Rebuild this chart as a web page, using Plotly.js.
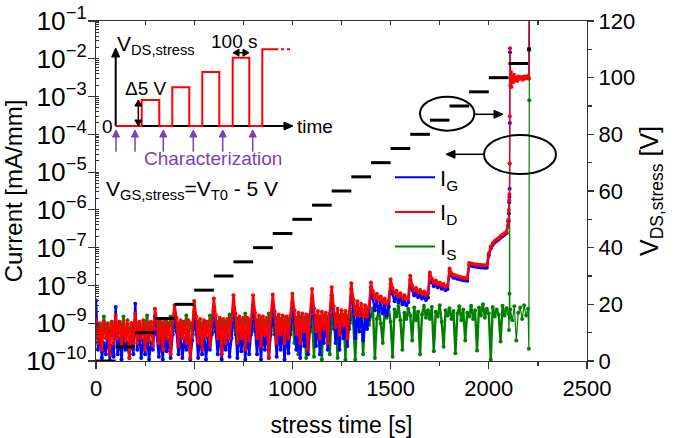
<!DOCTYPE html>
<html>
<head>
<meta charset="utf-8">
<script src="https://cdn.plot.ly/plotly-3.0.1.min.js"></script>
<style>
  html, body { margin: 0; padding: 0; background: #fff; }
  #chart { width: 678px; height: 438px; }
</style>
</head>
<body>
<div id="chart"></div>
<script>
// Stress sequence: currents logged every 10 s, V_DS,stress stepped by 5 V every 100 s.
const SAMPLE_INTERVAL_S = 10;

// Gate current I_G [mA/mm], one row per 100 s step (t = 0 ... 2090 s), last value at t = 2100 s
const gateCurrent = [
  4.0e-9, 2e-10, 5e-10, 1.2e-10, 3e-10, 1.5e-10, 6e-10, 1.0e-10, 2.5e-10, 1.3e-10,
  2.7e-9, 1.5e-10, 4e-10, 1.1e-10, 5e-10, 2e-10, 3e-10, 1.2e-10, 4.5e-10, 1.5e-10,
  3.3e-9, 2e-10, 6e-10, 1.2e-10, 3.5e-10, 1.5e-10, 5e-10, 1.1e-10, 3e-10, 2e-10,
  1.5e-9, 5e-10, 1.3e-10, 4e-10, 1.1e-10, 6e-10, 1.8e-10, 3.5e-10, 1.2e-10, 5e-10,
  1.8e-9, 6e-10, 1.5e-10, 5e-10, 1.2e-10, 4e-10, 2e-10, 6e-10, 1.1e-10, 3.5e-10,
  2.0e-9, 7e-10, 1.2e-10, 5e-10, 1.5e-10, 6e-10, 1.1e-10, 4e-10, 2e-10, 5.5e-10,
  2.2e-9, 6e-10, 1.5e-10, 7e-10, 1.1e-10, 5e-10, 2e-10, 6e-10, 1.3e-10, 4e-10,
  2.5e-9, 8e-10, 1.2e-10, 6e-10, 1.8e-10, 7e-10, 1.1e-10, 5e-10, 1.5e-10, 6e-10,
  2.8e-9, 7e-10, 1.5e-10, 8e-10, 1.1e-10, 6e-10, 2e-10, 7e-10, 1.2e-10, 5e-10,
  3.0e-9, 9e-10, 1.3e-10, 7e-10, 2e-10, 8e-10, 1.1e-10, 6e-10, 1.6e-10, 7e-10,
  3.5e-9, 1.2e-9, 2e-10, 1.0e-9, 1.2e-10, 9e-10, 2.5e-10, 1.1e-9, 1.5e-10, 8e-10,
  4.5e-9, 1.5e-9, 2.5e-10, 1.2e-9, 1.5e-10, 1.1e-9, 3e-10, 1.3e-9, 2e-10, 1.0e-9,
  5.5e-9, 1.8e-9, 3e-10, 1.5e-9, 2e-10, 1.4e-9, 4e-10, 1.3e-9, 2.5e-10, 1.2e-9,
  8.0e-9, 2.5e-9, 4e-10, 2.0e-9, 6e-10, 1.8e-9, 3.5e-10, 1.6e-9, 7e-10, 1.5e-9,
  9.0e-9, 4.5e-9, 2.2e-9, 4.0e-9, 2.0e-9, 3.5e-9, 1.8e-9, 3.0e-9, 1.6e-9, 2.8e-9,
  1.1e-8, 6.0e-9, 3.8e-9, 5.2e-9, 3.5e-9, 4.6e-9, 3.2e-9, 4.0e-9, 3.0e-9, 3.6e-9,
  1.4e-8, 7.6e-9, 5.4e-9, 6.6e-9, 4.9e-9, 5.8e-9, 4.5e-9, 5.2e-9, 4.1e-9, 4.7e-9,
  1.8e-8, 1.2e-8, 9.5e-9, 1.08e-8, 8.8e-9, 9.6e-9, 8.2e-9, 8.8e-9, 7.5e-9, 8.0e-9,
  2.4e-8, 1.8e-8, 1.6e-8, 1.6e-8, 1.5e-8, 1.45e-8, 1.42e-8, 1.38e-8, 1.35e-8, 1.33e-8,
  3.5e-8, 3.3e-8, 3.2e-8, 3.15e-8, 3.1e-8, 3.05e-8, 3.0e-8, 3.0e-8, 2.95e-8, 2.95e-8,
  6.2e-8, 9.5e-8, 1.18e-7, 1.36e-7, 1.5e-7, 1.65e-7, 1.82e-7, 2.0e-7, 2.2e-7, 2.4e-7,
  5.0e-7
];

// Drain current I_D [mA/mm]
const drainCurrent = [
  1.2e-9, 3e-10, 1.0e-9, 2e-10, 1.1e-9, 4e-10, 9e-10, 1.5e-10, 1.1e-9, 3e-10,
  1.6e-9, 4e-10, 1.1e-9, 2.5e-10, 1.0e-9, 3.5e-10, 1.2e-9, 1.2e-10, 1.0e-9, 3e-10,
  1.8e-9, 3e-10, 1.1e-9, 4e-10, 1.2e-9, 2e-10, 1.0e-9, 3.5e-10, 1.1e-9, 2.5e-10,
  2.4e-9, 1.3e-9, 3e-10, 1.1e-9, 2e-10, 1.2e-9, 4e-10, 1.0e-9, 1.5e-10, 1.1e-9,
  3.0e-9, 1.4e-9, 2.5e-10, 1.2e-9, 4e-10, 1.1e-9, 3e-10, 1.2e-9, 1.2e-10, 1.0e-9,
  3.9e-9, 1.5e-9, 3e-10, 1.3e-9, 2e-10, 1.2e-9, 4.5e-10, 1.1e-9, 2.5e-10, 1.2e-9,
  4.5e-9, 1.6e-9, 4e-10, 1.4e-9, 1.5e-10, 1.3e-9, 3e-10, 1.3e-9, 4e-10, 1.2e-9,
  5.5e-9, 1.8e-9, 3e-10, 1.5e-9, 4e-10, 1.4e-9, 2e-10, 1.4e-9, 3.5e-10, 1.3e-9,
  5.5e-9, 1.9e-9, 4e-10, 1.6e-9, 2.5e-10, 1.5e-9, 5e-10, 1.4e-9, 1.2e-10, 1.5e-9,
  5.8e-9, 2.0e-9, 3e-10, 1.7e-9, 5e-10, 1.6e-9, 3e-10, 1.5e-9, 4e-10, 1.6e-9,
  6.0e-9, 2.2e-9, 5e-10, 1.9e-9, 3e-10, 1.8e-9, 6e-10, 1.7e-9, 2e-10, 1.7e-9,
  8.0e-9, 2.5e-9, 6e-10, 2.1e-9, 4e-10, 2.0e-9, 7e-10, 1.9e-9, 3e-10, 1.8e-9,
  9.0e-9, 2.8e-9, 8e-10, 2.4e-9, 5e-10, 2.2e-9, 9e-10, 2.1e-9, 4e-10, 2.0e-9,
  1.15e-8, 4.3e-9, 1.7e-9, 3.8e-9, 1.6e-9, 3.3e-9, 1.5e-9, 3.0e-9, 1.5e-9, 2.7e-9,
  1.2e-8, 7.0e-9, 4.6e-9, 6.0e-9, 4.1e-9, 5.1e-9, 3.6e-9, 4.5e-9, 3.3e-9, 3.9e-9,
  1.45e-8, 8.5e-9, 6.0e-9, 7.2e-9, 5.2e-9, 6.2e-9, 4.8e-9, 5.5e-9, 4.4e-9, 4.8e-9,
  1.8e-8, 9.8e-9, 7.4e-9, 8.6e-9, 6.6e-9, 7.6e-9, 6.0e-9, 6.9e-9, 5.5e-9, 6.2e-9,
  2.2e-8, 1.5e-8, 1.2e-8, 1.35e-8, 1.1e-8, 1.2e-8, 1.0e-8, 1.1e-8, 9.2e-9, 9.8e-9,
  2.8e-8, 2.1e-8, 1.9e-8, 1.85e-8, 1.75e-8, 1.7e-8, 1.65e-8, 1.6e-8, 1.55e-8, 1.55e-8,
  3.9e-8, 3.8e-8, 3.7e-8, 3.6e-8, 3.6e-8, 3.5e-8, 3.5e-8, 3.4e-8, 3.4e-8, 3.4e-8,
  7.0e-8, 1.07e-7, 1.3e-7, 1.5e-7, 1.65e-7, 1.8e-7, 2.0e-7, 2.2e-7, 2.4e-7, 2.6e-7,
  5.4e-7
];

// Source current I_S [mA/mm]
const sourceCurrent = [
  1.1e-9, 6e-10, 9e-10, 5e-10, 1.5e-9, 6e-10, 1.0e-9, 5e-10, 1.1e-9, 7e-10,
  1.0e-9, 5e-10, 1.1e-9, 6e-10, 1.5e-9, 5e-10, 9e-10, 6e-10, 1.0e-9, 5e-10,
  1.1e-9, 6e-10, 1.0e-9, 5e-10, 1.0e-9, 7e-10, 1.6e-9, 5e-10, 1.0e-9, 6e-10,
  1.0e-9, 5e-10, 1.1e-9, 6e-10, 1.0e-9, 5e-10, 1.1e-9, 6e-10, 1.5e-9, 5e-10,
  1.1e-9, 6e-10, 1.0e-9, 5e-10, 1.1e-9, 7e-10, 1.6e-9, 5e-10, 1.0e-9, 6e-10,
  1.0e-9, 5e-10, 1.1e-9, 6e-10, 1.0e-9, 5e-10, 1.1e-9, 6e-10, 1.6e-9, 5e-10,
  1.2e-9, 6e-10, 1.1e-9, 5e-10, 1.2e-9, 6e-10, 1.1e-9, 5e-10, 1.7e-9, 6e-10,
  1.2e-9, 5e-10, 1.3e-9, 6e-10, 1.2e-9, 5e-10, 1.8e-9, 6e-10, 1.2e-9, 5e-10,
  1.3e-9, 6e-10, 1.2e-9, 5e-10, 1.3e-9, 6e-10, 1.2e-9, 5e-10, 1.8e-9, 6e-10,
  1.3e-9, 5e-10, 1.4e-9, 6e-10, 1.3e-9, 4e-10, 1.4e-9, 6e-10, 1.3e-9, 5e-10,
  1.5e-9, 3e-10, 1.4e-9, 1.5e-10, 1.5e-9, 6e-10, 1.4e-9, 1.2e-10, 1.5e-9, 6e-10,
  1.5e-9, 1.3e-10, 1.6e-9, 7e-10, 1.5e-9, 1.1e-10, 1.6e-9, 6e-10, 1.5e-9, 1.5e-10,
  1.6e-9, 7e-10, 1.7e-9, 1.2e-10, 1.6e-9, 8e-10, 1.7e-9, 1.1e-10, 1.6e-9, 7e-10,
  2.0e-9, 1.0e-9, 1.1e-10, 1.8e-9, 1.2e-9, 2.2e-9, 1.5e-10, 1.4e-9, 2.4e-9, 9e-10,
  1.6e-9, 2.5e-9, 1.2e-10, 1.3e-9, 2.2e-9, 1.0e-9, 3e-10, 2.0e-9, 1.4e-9, 2.6e-9,
  1.1e-9, 1.3e-10, 2.3e-9, 1.5e-9, 2.8e-9, 1.2e-9, 2e-10, 1.9e-9, 1.3e-9, 2.4e-9,
  1.6e-9, 3.5e-10, 2.6e-9, 1.2e-9, 2.0e-9, 1.5e-10, 1.7e-9, 2.9e-9, 1.4e-9, 2.2e-9,
  1.3e-9, 2.7e-9, 1.8e-10, 2.0e-9, 1.5e-9, 3.0e-9, 1.1e-9, 2.4e-10, 2.2e-9, 1.6e-9,
  2.5e-9, 1.3e-9, 2.1e-9, 1.6e-10, 1.8e-9, 2.8e-9, 1.2e-9, 2.3e-9, 3.5e-10, 1.9e-9,
  1.5e-9, 2.9e-9, 1.3e-9, 2.2e-9, 1.9e-10, 2.6e-9, 1.6e-9, 3.2e-9, 1.4e-9, 2.4e-9,
  1.8e-9, 1.1e-10, 2.7e-9, 1.5e-9, 2.3e-9, 1.7e-9, 3.3e-10, 2.9e-9, 1.6e-9, 2.5e-9,
  1.8e-9
];

// Breakdown events after 2100 s (denser logging)
const gateTailTime    = [2102, 2104, 2105, 2106, 2107, 2108, 2112, 2130, 2160, 2190, 2204, 2206];
const gateTailCurrent = [8e-7, 1.6e-6, 2.2e-6, 3.6e-6, 2.0e-4, 1.5e-2, 3.0e-3, 3.0e-3, 3.1e-3, 3.2e-3, 3.0e-3, 0.5];

const drainTailTime    = [2102, 2104, 2105, 2106, 2107, 2108, 2110, 2113, 2116, 2120, 2124, 2128,
                          2133, 2138, 2144, 2150, 2158, 2166, 2174, 2182, 2190, 2198, 2204, 2206];
const drainTailCurrent = [1.0e-6, 1.8e-6, 2.6e-6, 1.7e-5, 3.0e-4, 1.9e-2, 2.0e-3, 4.5e-3, 1.8e-3, 3.6e-3, 2.4e-3, 3.8e-3,
                          2.7e-3, 3.2e-3, 2.6e-3, 3.4e-3, 2.9e-3, 3.3e-3, 2.8e-3, 3.4e-3, 3.0e-3, 3.5e-3, 3.1e-3, 0.5];

const sourceTailTime    = [2103, 2105, 2106, 2107, 2110, 2120, 2130, 2140, 2150, 2160, 2170, 2180, 2190, 2200, 2204, 2206, 2207];
const sourceTailCurrent = [6.6e-10, 6e-9, 1.7e-5, 1.4e-9, 2.3e-9, 1.2e-9, 2.8e-9, 3.5e-10, 1.9e-9, 2.6e-9, 1.3e-9, 3.0e-9,
                           1.6e-9, 2.4e-9, 2.1e-10, 8e-4, 0.5];

// V_DS,stress steps [V] (right axis)
const stepStart   = [0, 100, 200, 300, 400, 500, 600, 700, 800, 900, 1000, 1100, 1200, 1300, 1400, 1500, 1600, 1700, 1800, 1900, 2000, 2100];
const stepEnd     = [100, 200, 300, 400, 500, 600, 700, 800, 900, 1000, 1100, 1200, 1300, 1400, 1500, 1600, 1700, 1800, 1900, 2000, 2100, 2200];
const stepVoltage = [0, 5, 10, 15, 20, 25, 30, 35, 40, 45, 50, 55, 60, 65, 70, 75, 80, 85, 90, 95, 100, 105];
const lastStepTime = [2205];
const lastStepVoltage = [110];

const seriesNames = ['I<sub>G</sub>', 'I<sub>D</sub>', 'I<sub>S</sub>'];
const seriesColors = ['#0000ff', '#ff0000', '#008000'];

// ---------- build traces ----------
const sampleTime = gateCurrent.map((_, i) => i * SAMPLE_INTERVAL_S);

// logged part (dense, heavy stroke) + breakdown part (thin stroke), joined at the last logged point
function currentTraces(values, tailT, tailV, color) {
  const base = { type: 'scatter', mode: 'lines+markers', xaxis: 'x', yaxis: 'y', showlegend: false, hoverinfo: 'skip' };
  const lastT = sampleTime[sampleTime.length - 1];
  const lastV = values[values.length - 1];
  return [
    Object.assign({}, base, { x: sampleTime, y: values, line: { color: color, width: 2.4 }, marker: { color: color, size: 4 } }),
    Object.assign({}, base, { x: [lastT].concat(tailT), y: [lastV].concat(tailV), line: { color: color, width: 1.2 }, marker: { color: color, size: 4 } })
  ];
}

const stepX = [], stepY = [];
stepStart.forEach((t0, i) => {
  stepX.push(t0, stepEnd[i], null);
  stepY.push(stepVoltage[i], stepVoltage[i], null);
});

const traces = [].concat(
  currentTraces(sourceCurrent, sourceTailTime, sourceTailCurrent, seriesColors[2]),
  currentTraces(gateCurrent, gateTailTime, gateTailCurrent, seriesColors[0]),
  currentTraces(drainCurrent, drainTailTime, drainTailCurrent, seriesColors[1]),
  [
    {
      type: 'scatter', mode: 'lines', x: stepX, y: stepY, xaxis: 'x', yaxis: 'y2',
      line: { color: '#000', width: 3 }, showlegend: false, hoverinfo: 'skip'
    },
    {
      type: 'scatter', mode: 'markers', x: lastStepTime, y: lastStepVoltage, xaxis: 'x', yaxis: 'y2',
      marker: { color: '#000', size: 4, symbol: 'square' }, showlegend: false, hoverinfo: 'skip'
    },
    // top frame axis carrier
    { type: 'scatter', mode: 'lines', x: [], y: [], xaxis: 'x2', yaxis: 'y', showlegend: false, hoverinfo: 'skip' }
  ]
);

// legend entries (line only)
seriesNames.forEach((name, i) => {
  traces.push({
    type: 'scatter', mode: 'lines', x: [null], y: [null], name: name,
    legendgroup: 'g' + i, line: { color: seriesColors[i], width: 2 }, hoverinfo: 'skip'
  });
});

// ---------- inset sketch & annotations (pixel positions in the plot frame) ----------
const FRAME = { left: 96, top: 21, width: 491, height: 340 };
const fx = x => (x - FRAME.left) / FRAME.width;
const fy = y => (FRAME.top + FRAME.height - y) / FRAME.height;

const INK = '#000';
const PULSE = '#ff0000';
const VIOLET = '#7b3fb6';

function seg(x0, y0, x1, y1, color, width, dash) {
  return { type: 'line', xref: 'paper', yref: 'paper', x0: fx(x0), y0: fy(y0), x1: fx(x1), y1: fy(y1),
           line: { color: color, width: width, dash: dash || 'solid' } };
}
function poly(points, color, width, closed, fill) {
  const d = points.map((p, i) => (i ? 'L' : 'M') + fx(p[0]).toFixed(5) + ',' + fy(p[1]).toFixed(5)).join(' ') + (closed ? ' Z' : '');
  return { type: 'path', xref: 'paper', yref: 'paper', path: d,
           line: { color: color, width: width }, fillcolor: fill || 'rgba(0,0,0,0)' };
}
function head(x, y, dir, color, len, half) {
  len = len || 8; half = half || 4;
  const pts = {
    up:    [[x, y], [x - half, y + len], [x + half, y + len]],
    down:  [[x, y], [x - half, y - len], [x + half, y - len]],
    right: [[x, y], [x - len, y - half], [x - len, y + half]],
    left:  [[x, y], [x + len, y - half], [x + len, y + half]]
  }[dir];
  return poly(pts, color, 1, true, color);
}
function ellipse(x0, y0, x1, y1) {
  return { type: 'circle', xref: 'paper', yref: 'paper', x0: fx(x0), x1: fx(x1), y0: fy(y1), y1: fy(y0),
           line: { color: INK, width: 2 } };
}

const shapes = [
  // inset axes
  seg(115.7, 126, 115.7, 56, INK, 2), head(115.7, 48, 'up', INK, 9, 4),
  seg(115.7, 126, 285, 126, INK, 2), head(293, 126, 'right', INK, 9, 4),
  // stress pulse train
  poly([[115.7, 126], [141.7, 126], [141.7, 100], [159.3, 100], [159.3, 126], [172.3, 126], [172.3, 87.3],
        [189.3, 87.3], [189.3, 126], [202.3, 126], [202.3, 72], [219.3, 72], [219.3, 126], [232.7, 126],
        [232.7, 57.7], [249.3, 57.7], [249.3, 126], [262.3, 126], [262.3, 49.3], [278.3, 49.3]], PULSE, 2),
  seg(281, 49.3, 293, 49.3, PULSE, 2, 'dot'),
  // 5 V increment
  seg(138.3, 105, 138.3, 121, INK, 1.5), head(138.3, 100, 'up', INK, 6, 3.5), head(138.3, 126, 'down', INK, 6, 3.5),
  // 100 s duration
  seg(238, 52.7, 244, 52.7, INK, 1.5), head(233, 52.7, 'left', INK, 6, 3.5), head(249, 52.7, 'right', INK, 6, 3.5),
  // ellipses with arrows toward the axis they refer to
  ellipse(420, 96.7, 474.3, 130.7), seg(474.3, 114.3, 495, 114.3, INK, 1.5), head(503, 114.3, 'right', INK, 9, 4),
  ellipse(484, 135, 556, 174), seg(484, 154.3, 454, 154.3, INK, 1.5), head(446, 154.3, 'left', INK, 9, 4)
];
[116, 135, 163.3, 193.3, 222.7, 252.7].forEach(x => {
  shapes.push(seg(x, 151.7, x, 137, VIOLET, 1.5), head(x, 130, 'up', VIOLET, 7, 3.5));
});

function label(text, x, y, xanchor, size, color) {
  return { text: text, xref: 'paper', yref: 'paper', x: fx(x), y: fy(y), xanchor: xanchor, yanchor: 'middle',
           showarrow: false, font: { size: size, color: color || INK } };
}
const annotations = [
  label('V<sub>DS,stress</sub>', 115, 45, 'left', 21),
  label('0', 107, 126, 'center', 19),
  label('\u03945 V', 146, 89, 'center', 19),
  label('100 s', 234, 41, 'center', 19),
  label('time', 295, 126, 'left', 19),
  label('Characterization', 212.5, 158, 'center', 19, VIOLET),
  label('V<sub>GS,stress</sub>=V<sub>T0</sub> - 5 V', 104, 190, 'left', 21)
];

const AXIS_COLOR = '#333';
const layout = {
  width: 678, height: 438,
  margin: { l: 96, r: 91, t: 21, b: 77, pad: 0 },
  paper_bgcolor: '#fff', plot_bgcolor: '#fff',
  font: { family: '"Liberation Sans", Arial, sans-serif', color: '#000', size: 21 },
  hovermode: false,
  xaxis: {
    range: [0, 2500], tick0: 0, dtick: 500, showgrid: false, zeroline: false,
    showline: true, linecolor: AXIS_COLOR, linewidth: 1.2,
    ticks: 'outside', ticklen: 7, tickwidth: 1.2, tickcolor: AXIS_COLOR,
    minor: { dtick: 250, ticks: 'outside', ticklen: 4, tickwidth: 1.2, tickcolor: AXIS_COLOR },
    tickfont: { size: 22 },
    title: { text: 'stress time [s]', font: { size: 23 }, standoff: 18 }
  },
  xaxis2: {
    overlaying: 'x', side: 'top', matches: 'x', range: [0, 2500], tick0: 0, dtick: 250,
    showgrid: false, zeroline: false, showline: true, linecolor: AXIS_COLOR, linewidth: 1.2,
    ticks: 'inside', ticklen: 4, tickwidth: 1.2, tickcolor: AXIS_COLOR, showticklabels: false
  },
  yaxis: {
    type: 'log', range: [-10, -1], dtick: 1, exponentformat: 'power', showexponent: 'all',
    showgrid: false, zeroline: false, showline: true, linecolor: AXIS_COLOR, linewidth: 1.2,
    ticks: 'outside', ticklen: 7, tickwidth: 1.2, tickcolor: AXIS_COLOR, ticklabelstandoff: -3,
    minor: { dtick: 'D1', ticks: 'inside', ticklen: 3, tickwidth: 1, tickcolor: AXIS_COLOR },
    tickfont: { size: 21 },
    title: { text: 'Current [mA/mm]', font: { size: 24 }, standoff: 0 }
  },
  yaxis2: {
    overlaying: 'y', side: 'right', range: [0, 120], tick0: 0, dtick: 20,
    showgrid: false, zeroline: false, showline: true, linecolor: AXIS_COLOR, linewidth: 1.2,
    ticks: 'outside', ticklen: 6, tickwidth: 1.2, tickcolor: AXIS_COLOR,
    minor: { dtick: 10, ticks: 'outside', ticklen: 4, tickwidth: 1.2, tickcolor: AXIS_COLOR },
    tickfont: { size: 22 },
    title: { text: 'V<sub>DS,stress</sub> [V]', font: { size: 25 }, standoff: 6 }
  },
  showlegend: true,
  legend: {
    x: fx(390), y: fy(156.5), xanchor: 'left', yanchor: 'top',
    bgcolor: 'rgba(0,0,0,0)', borderwidth: 0, font: { size: 22 },
    traceorder: 'grouped', tracegroupgap: 3, itemwidth: 40
  },
  shapes: shapes,
  annotations: annotations
};

Plotly.newPlot('chart', traces, layout, { staticPlot: true, displayModeBar: false });
</script>
</body>
</html>
